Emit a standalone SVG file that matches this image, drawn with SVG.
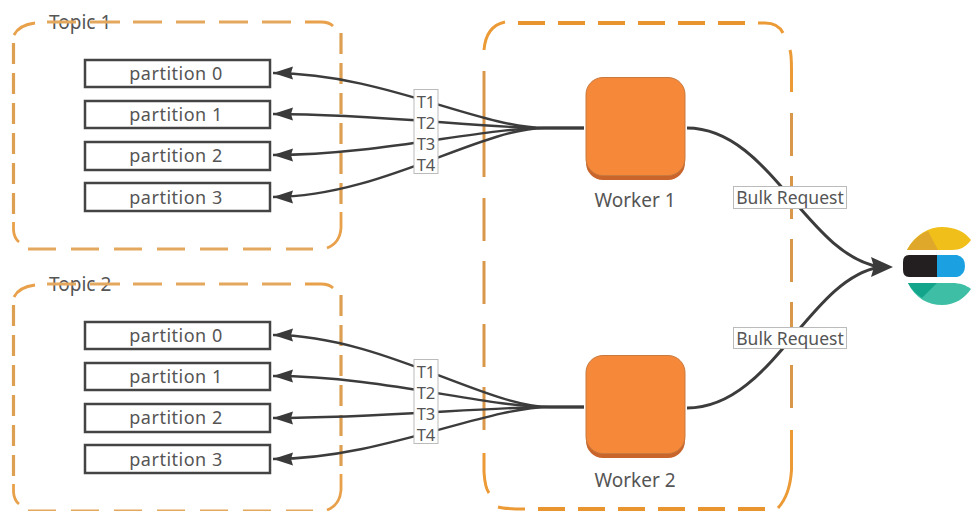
<svg xmlns="http://www.w3.org/2000/svg" width="971" height="511" viewBox="0 0 971 511">
<defs>
<g id="topicFrame">
<path class="curve" d="M35 23 Q19 25 14 35"/>
<path class="curve" d="M305 22 H321 Q329 22 333 26"/>
<path class="curve" d="M341 212 V228 Q340 243 327 248"/>
<path class="curve" d="M13.5 222 V230 Q14 238 19 242"/>
<path class="dashH" d="M47 22 H76 M90 22 H120"/>
<path class="dashH" stroke-dasharray="29 14" d="M133 22 H300"/>
<path class="dashH" stroke-dasharray="28 15" d="M28 249 H313"/>
<path class="dashV" stroke-dasharray="21 9" d="M13.5 43 V215"/>
<path class="dashV" stroke-dasharray="21 9" d="M341 33 V204"/>
</g>
<path id="headL" d="M273 0 L293 -6.5 L291 0 L293 6.5 Z" fill="#3a3a3a"/>
</defs>
<style>
text{font-family:"Noto Sans","Open Sans","DejaVu Sans",sans-serif;fill:#555}
.curve{fill:none;stroke:#e8a04a;stroke-width:2.8}
.dashH{fill:none;stroke:#e3a75e;stroke-width:2.8}
.dashV{fill:none;stroke:#dd9f52;stroke-width:3.2}
.wcurve{fill:none;stroke:#ec9a35;stroke-width:3}
.wh{fill:none;stroke:#e8952f;stroke-width:4}
.wv{fill:none;stroke:#d9974a;stroke-width:3}
.part rect{fill:#fff;stroke:#444;stroke-width:2.5}
.part text{font-size:18px;text-anchor:middle;letter-spacing:.5px}
.topic{font-size:19px}
.wire{fill:none;stroke:#3c3c3c;stroke-width:2.4}
.wire2{fill:none;stroke:#3c3c3c;stroke-width:3}
.tag rect{fill:#fff;stroke:#bbb;stroke-width:1}
.tag text{font-size:16.5px;text-anchor:middle}
.bulk text{font-size:17.5px;text-anchor:middle}
.worker{fill:#f6883a;stroke:#c87a3e;stroke-width:1}
.base{fill:#c9642a}
.wname{font-size:19px;text-anchor:middle}
</style>
<rect width="971" height="511" fill="#fff"/>

<g id="topic1">
<text class="topic" x="49" y="29">Topic 1</text>
<use href="#topicFrame"/>
</g>
<g id="topic2">
<text class="topic" x="49" y="291">Topic 2</text>
<use href="#topicFrame" y="262"/>
</g>
<g id="workers-group">
<path class="wcurve" d="M505 22 Q486 26 484 50"/>
<path class="wcurve" d="M758 23 H765 Q778 23 783 33"/>
<path class="wcurve" d="M790 50 Q791.5 55 791.5 70 V92"/>
<path class="wcurve" d="M484 453 V472 Q485 488 489 493"/>
<path class="wcurve" d="M791.5 430 V470 Q790 495 778 508"/>
<path class="wcurve" d="M498 507 Q505 509 525 509"/>
<path class="wh" stroke-dasharray="27 13" d="M518 23 H746"/>
<path class="wh" stroke-dasharray="27 13" d="M538 509 H766"/>
<path class="wv" d="M484 71 V177"/>
<path class="wv" stroke-dasharray="43 20" d="M484 198 V432"/>
<path class="wv" stroke-dasharray="43 20" d="M791.5 113 V408"/>
</g>

<g id="t1p0" class="part"><rect x="85" y="60" width="185" height="27"/><text x="176" y="80">partition 0</text></g>
<g id="t1p1" class="part"><rect x="85" y="101" width="185" height="27"/><text x="176" y="121">partition 1</text></g>
<g id="t1p2" class="part"><rect x="85" y="142" width="185" height="28"/><text x="176" y="162">partition 2</text></g>
<g id="t1p3" class="part"><rect x="85" y="183" width="185" height="28"/><text x="176" y="204">partition 3</text></g>
<g id="t2p0" class="part"><rect x="85" y="322" width="185" height="27"/><text x="176" y="342">partition 0</text></g>
<g id="t2p1" class="part"><rect x="85" y="363" width="185" height="27"/><text x="176" y="383">partition 1</text></g>
<g id="t2p2" class="part"><rect x="85" y="404" width="185" height="28"/><text x="176" y="424">partition 2</text></g>
<g id="t2p3" class="part"><rect x="85" y="445" width="185" height="28"/><text x="176" y="466">partition 3</text></g>

<g id="connectors">
<path class="wire" d="M584 128 H545 C480 128 380 73 273 73"/>
<path class="wire" d="M584 128 H545 C480 128 380 114 273 114"/>
<path class="wire" d="M584 128 H545 C480 128 380 155 273 155"/>
<path class="wire" d="M584 128 H545 C480 128 380 197 273 197"/>
<path class="wire" d="M584 407 H550 C485 407 380 335 273 335"/>
<path class="wire" d="M584 407 H550 C485 407 380 376 273 376"/>
<path class="wire" d="M584 407 H550 C485 407 380 418 273 418"/>
<path class="wire" d="M584 407 H550 C485 407 380 459 273 459"/>
<use href="#headL" y="73"/><use href="#headL" y="114"/><use href="#headL" y="155"/><use href="#headL" y="197"/>
<use href="#headL" y="335"/><use href="#headL" y="376"/><use href="#headL" y="418"/><use href="#headL" y="459"/>
<path class="wire2" d="M687 128 C770 128 806 255 880 267"/>
<path class="wire2" d="M687 408 C772 408 808 279 880 267"/>
<path d="M893 267 L871 257 L874 267 L871 277 Z" fill="#3a3a3a"/>
</g>

<g id="t1-tags" class="tag">
<rect x="414" y="89.500" width="24" height="84"/>
<text x="426" y="108">T1</text><text x="426" y="129">T2</text><text x="426" y="150">T3</text><text x="426" y="171">T4</text>
</g>
<g id="t2-tags" class="tag">
<rect x="414" y="359.500" width="24" height="84"/>
<text x="426" y="378">T1</text><text x="426" y="399">T2</text><text x="426" y="420">T3</text><text x="426" y="441">T4</text>
</g>
<g id="bulk1" class="tag bulk"><rect x="733.500" y="186.500" width="113" height="22"/><text x="790" y="204">Bulk Request</text></g>
<g id="bulk2" class="tag bulk"><rect x="733.500" y="327.500" width="113" height="21"/><text x="790" y="345">Bulk Request</text></g>

<g id="worker1">
<rect class="base" x="586" y="80" width="99" height="100" rx="17"/>
<rect class="worker" x="586" y="77.500" width="99" height="98" rx="17"/>
<text class="wname" x="635" y="207">Worker 1</text>
</g>
<g id="worker2">
<rect class="base" x="586" y="358" width="99" height="100" rx="17"/>
<rect class="worker" x="586" y="355.500" width="99" height="98" rx="17"/>
<text class="wname" x="635" y="487">Worker 2</text>
</g>

<g id="elasticsearch">
<path d="M907 250 C915 234 930 227 942 227 C955 227 965 232 971 240 C966 247 960 250 952 250 Z" fill="#f0bf1a"/>
<path d="M907 250 C912 240 920 234 928 231 L938 250 Z" fill="#dfa82a"/>
<path d="M909 255 L940 255 L940 277 L909 277 Q903 277 903 270 L903 262 Q903 255 909 255 Z" fill="#231f20"/>
<path d="M937 255 L957 255 Q965 257 965 266 Q965 275 957 277 L937 277 Z" fill="#1ba1e2"/>
<path d="M908 283 L952 283 C960 283 966 285 971 289 C965 298 955 305 942 305 C928 305 915 298 908 283 Z" fill="#3ebfa5"/>
<path d="M908 283 L937 283 L922 298 C916 294 911 289 908 283 Z" fill="#12a58c"/>
</g>
</svg>
